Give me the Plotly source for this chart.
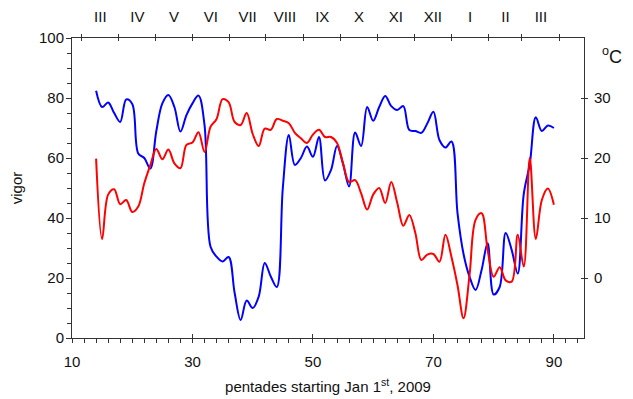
import plotly.graph_objects as go

# ---- data ----
pentades = list(range(14, 91))
vigor = [82.4, 77, 78.5, 75, 72, 79.5, 78, 61.5, 60, 56.5,
         69, 78.2, 81, 77, 68.8, 74.3, 78.2, 80.8, 71, 30.4,
         27.1, 25.5, 27, 15, 6, 12.5, 10, 13.8, 25, 20.5,
         17, 50, 67.7, 57.7, 60, 63.8, 60.4, 67, 52.5, 56,
         64, 58, 50.5, 68.5, 64, 77, 72.4, 77, 80.7, 77.3,
         76, 77.3, 69.3, 69, 68.4, 71.6, 75.4, 66, 63.5, 65.5,
         41.6, 28, 20.4, 16, 22.7, 31.6, 14.5, 17, 35, 29.3,
         21.5, 48, 58, 73.6, 69, 70.8, 70]
temperature = [19.9, 6.5, 13.9, 14.8, 12.3, 13, 11, 11.9, 15.8, 18.8,
               21.5, 19.8, 21.4, 19.1, 18.3, 22.2, 22.6, 24.3, 21, 25.2,
               26.5, 29.8, 29.3, 26, 25.5, 27.5, 24, 22, 24.9, 24.7,
               26.5, 26.2, 25.8, 24.2, 23.3, 22.5, 23.9, 24.7, 23.5, 23.5,
               22.5, 19.1, 16, 16.3, 14.1, 11.4, 13.9, 15, 12.5, 16,
               12.5, 8.7, 10.5, 7.5, 3, 3.9, 4, 2.7, 7.2, 3.5,
               -1.2, -6.7, 0.5, 9.7, 10.8, 4.7, 0.2, 1.8, -0.4, -0.6,
               7.2, 1.9, 20, 6.5, 13, 14.9, 12.2]

bottom_ticks = [10, 30, 50, 70, 90]
vigor_ticks = [0, 20, 40, 60, 80, 100]
temp_ticks = [0, 10, 20, 30]
month_bounds = [11.6, 17.8, 23.9, 30.0, 36.1, 42.2, 48.5, 54.6, 60.7, 66.8, 73.0, 79.2, 84.7, 91.0]
month_labels = ["III", "IV", "V", "VI", "VII", "VIII", "IX", "X", "XI", "XII", "I", "II", "III"]
month_mids = [(a + b) / 2 for a, b in zip(month_bounds[:-1], month_bounds[1:])]

XR = [10, 95]
VR = [0, 100]
TR = [-10, 40]
FONT = "Liberation Sans, Arial, sans-serif"
AX = "#333333"
FS = 15

fig = go.Figure()
fig.add_trace(go.Scatter(x=pentades, y=vigor, mode="lines", line=dict(color="#0000FF", width=2, shape="spline", smoothing=1),
                         xaxis="x", yaxis="y", showlegend=False))
fig.add_trace(go.Scatter(x=pentades, y=temperature, mode="lines", line=dict(color="#FF0000", width=2, shape="spline", smoothing=1),
                         xaxis="x", yaxis="y2", showlegend=False))
# empty traces to hold extra axes
for xa, ya in [("x2", "y"), ("x3", "y"), ("x4", "y"), ("x5", "y"), ("x", "y3")]:
    fig.add_trace(go.Scatter(x=[None], y=[None], xaxis=xa, yaxis=ya, showlegend=False, hoverinfo="skip"))

tickfont = dict(family=FONT, size=FS, color="#111111")
common = dict(showgrid=False, zeroline=False, automargin=False)

fig.update_layout(
    width=633, height=399,
    margin=dict(l=72, r=49, t=38, b=61),
    paper_bgcolor="white", plot_bgcolor="white",
    font=dict(family=FONT, size=FS, color="#111111"),
    xaxis=dict(range=XR, tickmode="array", tickvals=bottom_ticks, ticks="outside", ticklen=4, tickcolor=AX,
               showline=True, linecolor=AX, linewidth=1, **common,
               tickfont=tickfont, ticklabelstandoff=6,
               minor=dict(dtick=2, tick0=0, ticks="outside", ticklen=3.5, tickcolor=AX, showgrid=False),
               title=dict(text="pentades starting Jan 1<sup>st</sup>, 2009", font=dict(family=FONT, size=FS), standoff=12)),
    xaxis5=dict(range=XR, overlaying="x", anchor="y", side="bottom", tickmode="array", tickvals=bottom_ticks,
                ticks="inside", ticklen=4, tickcolor=AX, showticklabels=False, showline=False, **common),
    xaxis2=dict(range=XR, overlaying="x", anchor="y", side="top", tickmode="array", tickvals=month_bounds,
                ticks="outside", ticklen=3, tickcolor=AX, showticklabels=False, showline=True, linecolor=AX, **common),
    xaxis3=dict(range=XR, overlaying="x", anchor="y", side="top", tickmode="array", tickvals=month_bounds,
                ticks="inside", ticklen=3, tickcolor=AX, showticklabels=False, showline=False, **common),
    xaxis4=dict(range=XR, overlaying="x", anchor="y", side="top", tickmode="array", tickvals=month_mids,
                ticktext=month_labels, ticks="outside", ticklen=9, tickcolor="rgba(0,0,0,0)",
                showline=False, tickfont=tickfont, **common),
    yaxis=dict(range=VR, tickmode="array", tickvals=vigor_ticks, ticks="outside", ticklen=5, tickcolor=AX,
               showline=True, linecolor=AX, linewidth=1, tickfont=tickfont, ticklabelstandoff=-1, **common,
               minor=dict(dtick=5, tick0=0, ticks="outside", ticklen=4, tickcolor=AX, showgrid=False),
               title=dict(text="vigor", font=dict(family=FONT, size=FS), standoff=12)),
    yaxis2=dict(range=TR, overlaying="y", anchor="x", side="right", tickmode="array", tickvals=temp_ticks,
                ticks="outside", ticklen=3, tickcolor=AX, showline=True, linecolor=AX, linewidth=1,
                tickfont=tickfont, ticklabelstandoff=3, **common),
    yaxis3=dict(range=TR, overlaying="y", anchor="x", side="right", tickmode="array", tickvals=temp_ticks,
                ticks="inside", ticklen=3, tickcolor=AX, showticklabels=False, showline=False, **common),
    annotations=[dict(text="<sup>o</sup>C", xref="paper", yref="paper", x=1.0, y=1.0, xanchor="left", yanchor="top",
                      xshift=16, yshift=-4, showarrow=False, font=dict(family=FONT, size=18, color="#111111"))],
)

fig.write_html("out.html")
